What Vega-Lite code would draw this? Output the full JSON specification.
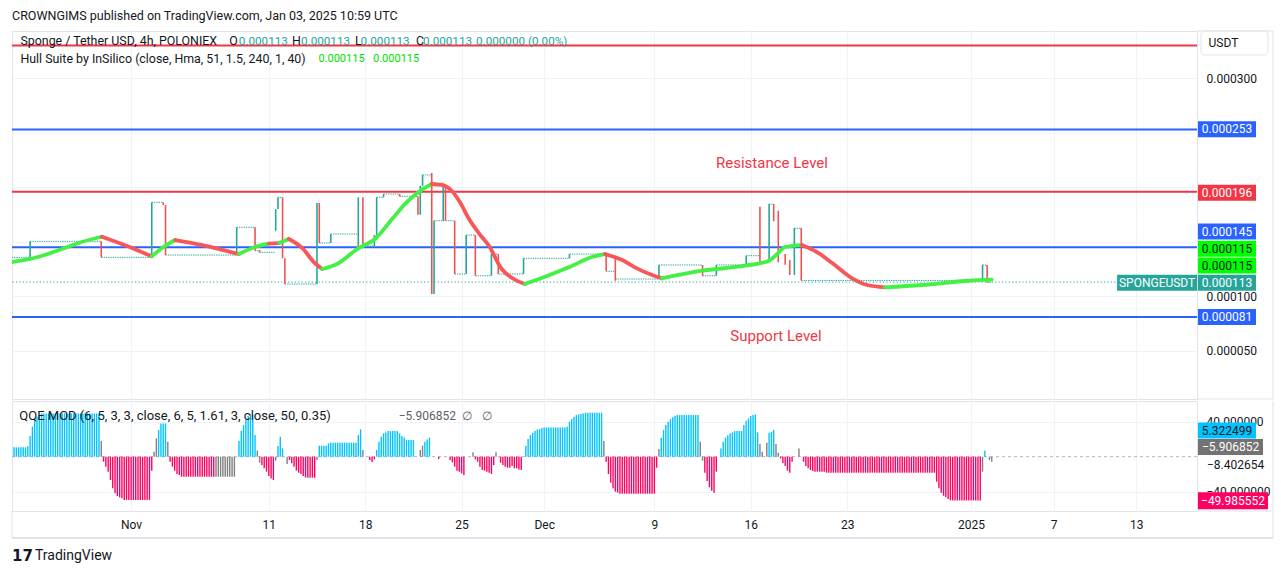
{
"$schema": "https://vega.github.io/schema/vega-lite/v6.json",
"background": "white",
"padding": {"left": 10, "top": 9, "right": 0, "bottom": 0},
"spacing": 0,
"config": {
 "font": "Roboto",
 "view": {"stroke": "#e0e3eb", "strokeWidth": 1},
 "axis": {"labelFont": "Roboto", "labelFontSize": 12, "labelColor": "#131722", "gridColor": "#f0f3fa", "ticks": false, "tickSize": 0, "domain": false},
 "text": {"font": "Roboto"}
},
"datasets": {
 "levels": [
  {"price": 0.00033, "role": "resistance"},
  {"price": 0.000253, "role": "support"},
  {"price": 0.000196, "role": "resistance"},
  {"price": 0.000145, "role": "support"},
  {"price": 0.000081, "role": "support"}
 ],
 "flats": [
  {"from":"2024-10-23T08:00Z","to":"2024-10-24T16:00Z","price":0.0001357},
  {"from":"2024-10-24T16:00Z","to":"2024-10-29T20:00Z","price":0.0001504},
  {"from":"2024-10-29T20:00Z","to":"2024-11-02T12:00Z","price":0.0001357},
  {"from":"2024-11-02T12:00Z","to":"2024-11-03T08:00Z","price":0.0001862},
  {"from":"2024-11-03T12:00Z","to":"2024-11-08T16:00Z","price":0.0001378},
  {"from":"2024-11-08T16:00Z","to":"2024-11-10T00:00Z","price":0.0001633},
  {"from":"2024-11-10T00:00Z","to":"2024-11-10T08:00Z","price":0.0001418},
  {"from":"2024-11-10T08:00Z","to":"2024-11-11T12:00Z","price":0.0001403},
  {"from":"2024-11-11T16:00Z","to":"2024-11-12T00:00Z","price":0.0001908},
  {"from":"2024-11-12T04:00Z","to":"2024-11-14T12:00Z","price":0.0001112},
  {"from":"2024-11-14T16:00Z","to":"2024-11-15T12:00Z","price":0.0001488},
  {"from":"2024-11-15T12:00Z","to":"2024-11-17T12:00Z","price":0.0001571},
  {"from":"2024-11-17T20:00Z","to":"2024-11-18T16:00Z","price":0.0001461},
  {"from":"2024-11-18T20:00Z","to":"2024-11-19T08:00Z","price":0.0001908},
  {"from":"2024-11-19T08:00Z","to":"2024-11-20T12:00Z","price":0.0001938},
  {"from":"2024-11-20T12:00Z","to":"2024-11-21T20:00Z","price":0.0001917},
  {"from":"2024-11-22T04:00Z","to":"2024-11-22T20:00Z","price":0.0002113},
  {"from":"2024-11-23T00:00Z","to":"2024-11-24T12:00Z","price":0.0001693},
  {"from":"2024-11-24T12:00Z","to":"2024-11-25T08:00Z","price":0.0001204},
  {"from":"2024-11-25T08:00Z","to":"2024-11-26T00:00Z","price":0.0001562},
  {"from":"2024-11-26T00:00Z","to":"2024-11-27T04:00Z","price":0.0001188},
  {"from":"2024-11-27T04:00Z","to":"2024-11-27T16:00Z","price":0.0001387},
  {"from":"2024-11-27T16:00Z","to":"2024-11-29T12:00Z","price":0.0001204},
  {"from":"2024-11-29T12:00Z","to":"2024-12-02T20:00Z","price":0.0001348},
  {"from":"2024-12-02T20:00Z","to":"2024-12-05T12:00Z","price":0.0001387},
  {"from":"2024-12-05T12:00Z","to":"2024-12-06T04:00Z","price":0.0001229},
  {"from":"2024-12-06T04:00Z","to":"2024-12-09T08:00Z","price":0.0001158},
  {"from":"2024-12-09T08:00Z","to":"2024-12-12T12:00Z","price":0.0001287},
  {"from":"2024-12-12T12:00Z","to":"2024-12-13T12:00Z","price":0.0001188},
  {"from":"2024-12-13T12:00Z","to":"2024-12-15T16:00Z","price":0.0001287},
  {"from":"2024-12-15T16:00Z","to":"2024-12-16T16:00Z","price":0.0001372},
  {"from":"2024-12-17T08:00Z","to":"2024-12-17T16:00Z","price":0.0001846},
  {"from":"2024-12-19T04:00Z","to":"2024-12-19T16:00Z","price":0.0001623},
  {"from":"2024-12-19T16:00Z","to":"2025-01-01T20:00Z","price":0.0001145},
  {"from":"2025-01-01T20:00Z","to":"2025-01-02T04:00Z","price":0.0001287},
  {"from":"2025-01-02T04:00Z","to":"2025-01-02T12:00Z","price":0.0001128}
 ],
 "candles": [
  {"t":"2024-10-24T16:00Z","open":0.0001357,"high":0.0001504,"low":0.0001357,"close":0.0001504},
  {"t":"2024-10-29T20:00Z","open":0.0001504,"high":0.0001504,"low":0.0001357,"close":0.0001357},
  {"t":"2024-11-02T12:00Z","open":0.0001357,"high":0.0001862,"low":0.0001357,"close":0.0001862},
  {"t":"2024-11-03T08:00Z","open":0.0001862,"high":0.0001862,"low":0.0001837,"close":0.0001837},
  {"t":"2024-11-03T12:00Z","open":0.0001837,"high":0.0001837,"low":0.0001378,"close":0.0001378},
  {"t":"2024-11-08T16:00Z","open":0.0001378,"high":0.0001633,"low":0.0001378,"close":0.0001633},
  {"t":"2024-11-10T00:00Z","open":0.0001633,"high":0.0001633,"low":0.0001418,"close":0.0001418},
  {"t":"2024-11-10T08:00Z","open":0.0001418,"high":0.0001425,"low":0.0001403,"close":0.0001403},
  {"t":"2024-11-11T12:00Z","open":0.0001601,"high":0.00018,"low":0.0001601,"close":0.00018},
  {"t":"2024-11-11T16:00Z","open":0.00018,"high":0.0001908,"low":0.00018,"close":0.0001908},
  {"t":"2024-11-12T00:00Z","open":0.0001908,"high":0.0001908,"low":0.0001348,"close":0.0001348},
  {"t":"2024-11-12T04:00Z","open":0.0001348,"high":0.0001348,"low":0.0001112,"close":0.0001112},
  {"t":"2024-11-14T12:00Z","open":0.0001112,"high":0.0001856,"low":0.0001112,"close":0.0001856},
  {"t":"2024-11-14T16:00Z","open":0.0001856,"high":0.0001856,"low":0.0001488,"close":0.0001488},
  {"t":"2024-11-15T12:00Z","open":0.0001488,"high":0.0001571,"low":0.0001488,"close":0.0001571},
  {"t":"2024-11-17T12:00Z","open":0.0001571,"high":0.0001908,"low":0.0001461,"close":0.0001908},
  {"t":"2024-11-17T20:00Z","open":0.0001908,"high":0.0001908,"low":0.0001461,"close":0.0001461},
  {"t":"2024-11-18T16:00Z","open":0.0001461,"high":0.0001562,"low":0.0001461,"close":0.0001562},
  {"t":"2024-11-18T20:00Z","open":0.0001562,"high":0.0001908,"low":0.0001562,"close":0.0001908},
  {"t":"2024-11-19T08:00Z","open":0.0001908,"high":0.0001938,"low":0.0001908,"close":0.0001938},
  {"t":"2024-11-20T12:00Z","open":0.0001938,"high":0.0001938,"low":0.0001917,"close":0.0001917},
  {"t":"2024-11-21T20:00Z","open":0.0001917,"high":0.0001917,"low":0.0001748,"close":0.0001748},
  {"t":"2024-11-22T00:00Z","open":0.0001748,"high":0.0002014,"low":0.0001748,"close":0.0002014},
  {"t":"2024-11-22T04:00Z","open":0.0002014,"high":0.0002113,"low":0.0002014,"close":0.0002113},
  {"t":"2024-11-22T20:00Z","open":0.0002113,"high":0.0002131,"low":0.000102,"close":0.000102},
  {"t":"2024-11-23T00:00Z","open":0.000102,"high":0.0001693,"low":0.000102,"close":0.0001693},
  {"t":"2024-11-23T16:00Z","open":0.0001693,"high":0.0002002,"low":0.0001693,"close":0.0002002},
  {"t":"2024-11-23T20:00Z","open":0.0002002,"high":0.0002002,"low":0.0001693,"close":0.0001693},
  {"t":"2024-11-24T12:00Z","open":0.0001693,"high":0.0001693,"low":0.0001204,"close":0.0001204},
  {"t":"2024-11-25T08:00Z","open":0.0001204,"high":0.0001562,"low":0.0001204,"close":0.0001562},
  {"t":"2024-11-26T00:00Z","open":0.0001562,"high":0.0001562,"low":0.0001188,"close":0.0001188},
  {"t":"2024-11-27T04:00Z","open":0.0001188,"high":0.0001387,"low":0.0001188,"close":0.0001387},
  {"t":"2024-11-27T16:00Z","open":0.0001387,"high":0.0001387,"low":0.0001204,"close":0.0001204},
  {"t":"2024-11-29T12:00Z","open":0.0001204,"high":0.0001348,"low":0.0001204,"close":0.0001348},
  {"t":"2024-12-02T20:00Z","open":0.0001348,"high":0.0001387,"low":0.0001348,"close":0.0001387},
  {"t":"2024-12-05T12:00Z","open":0.0001387,"high":0.0001387,"low":0.0001229,"close":0.0001229},
  {"t":"2024-12-06T04:00Z","open":0.0001229,"high":0.0001342,"low":0.0001142,"close":0.0001158},
  {"t":"2024-12-09T08:00Z","open":0.0001158,"high":0.0001287,"low":0.0001158,"close":0.0001287},
  {"t":"2024-12-12T12:00Z","open":0.0001287,"high":0.0001287,"low":0.0001188,"close":0.0001188},
  {"t":"2024-12-13T12:00Z","open":0.0001188,"high":0.0001287,"low":0.0001188,"close":0.0001287},
  {"t":"2024-12-15T16:00Z","open":0.0001287,"high":0.0001372,"low":0.0001287,"close":0.0001372},
  {"t":"2024-12-16T16:00Z","open":0.0001372,"high":0.0001822,"low":0.0001311,"close":0.0001311},
  {"t":"2024-12-17T08:00Z","open":0.0001311,"high":0.0001846,"low":0.0001311,"close":0.0001846},
  {"t":"2024-12-17T16:00Z","open":0.0001846,"high":0.0001846,"low":0.0001688,"close":0.0001688},
  {"t":"2024-12-18T00:00Z","open":0.0001785,"high":0.0001785,"low":0.0001311,"close":0.0001311},
  {"t":"2024-12-18T12:00Z","open":0.0001387,"high":0.0001387,"low":0.000129,"close":0.000129},
  {"t":"2024-12-18T20:00Z","open":0.0001332,"high":0.0001332,"low":0.0001195,"close":0.0001195},
  {"t":"2024-12-19T04:00Z","open":0.0001195,"high":0.0001627,"low":0.0001195,"close":0.0001627},
  {"t":"2024-12-19T16:00Z","open":0.0001627,"high":0.0001627,"low":0.0001145,"close":0.0001145},
  {"t":"2025-01-01T20:00Z","open":0.0001145,"high":0.0001287,"low":0.0001145,"close":0.0001287},
  {"t":"2025-01-02T04:00Z","open":0.0001287,"high":0.0001287,"low":0.0001128,"close":0.0001128}
 ],
 "hull": [
  {"t":"2024-10-23T08:00Z","hull":0.0001314,"seg":1,"trend":"up"},
  {"t":"2024-10-24T23:00Z","hull":0.0001351,"seg":1,"trend":"up"},
  {"t":"2024-10-26T23:30Z","hull":0.0001433,"seg":1,"trend":"up"},
  {"t":"2024-10-28T10:00Z","hull":0.0001498,"seg":1,"trend":"up"},
  {"t":"2024-10-29T21:00Z","hull":0.0001546,"seg":1,"trend":"up"},
  {"t":"2024-10-29T21:00Z","hull":0.0001546,"seg":2,"trend":"down"},
  {"t":"2024-10-31T17:00Z","hull":0.0001461,"seg":2,"trend":"down"},
  {"t":"2024-11-02T12:00Z","hull":0.0001366,"seg":2,"trend":"down"},
  {"t":"2024-11-02T12:00Z","hull":0.0001366,"seg":3,"trend":"up"},
  {"t":"2024-11-03T11:00Z","hull":0.0001461,"seg":3,"trend":"up"},
  {"t":"2024-11-04T05:00Z","hull":0.0001516,"seg":3,"trend":"up"},
  {"t":"2024-11-04T05:00Z","hull":0.0001516,"seg":4,"trend":"down"},
  {"t":"2024-11-06T04:00Z","hull":0.000147,"seg":4,"trend":"down"},
  {"t":"2024-11-08T20:00Z","hull":0.0001387,"seg":4,"trend":"down"},
  {"t":"2024-11-08T20:00Z","hull":0.0001387,"seg":5,"trend":"up"},
  {"t":"2024-11-10T00:00Z","hull":0.0001452,"seg":5,"trend":"up"},
  {"t":"2024-11-11T00:00Z","hull":0.0001482,"seg":5,"trend":"up"},
  {"t":"2024-11-11T00:00Z","hull":0.0001482,"seg":6,"trend":"down"},
  {"t":"2024-11-11T18:00Z","hull":0.0001488,"seg":6,"trend":"down"},
  {"t":"2024-11-11T18:00Z","hull":0.0001488,"seg":7,"trend":"up"},
  {"t":"2024-11-12T11:00Z","hull":0.0001525,"seg":7,"trend":"up"},
  {"t":"2024-11-12T11:00Z","hull":0.0001525,"seg":8,"trend":"down"},
  {"t":"2024-11-13T10:00Z","hull":0.0001443,"seg":8,"trend":"down"},
  {"t":"2024-11-14T08:00Z","hull":0.0001305,"seg":8,"trend":"down"},
  {"t":"2024-11-14T21:00Z","hull":0.000125,"seg":8,"trend":"down"},
  {"t":"2024-11-14T21:00Z","hull":0.000125,"seg":9,"trend":"up"},
  {"t":"2024-11-15T23:00Z","hull":0.0001296,"seg":9,"trend":"up"},
  {"t":"2024-11-17T10:00Z","hull":0.0001433,"seg":9,"trend":"up"},
  {"t":"2024-11-18T17:00Z","hull":0.0001525,"seg":9,"trend":"up"},
  {"t":"2024-11-19T23:00Z","hull":0.0001709,"seg":9,"trend":"up"},
  {"t":"2024-11-21T01:00Z","hull":0.0001865,"seg":9,"trend":"up"},
  {"t":"2024-11-22T03:00Z","hull":0.0001978,"seg":9,"trend":"up"},
  {"t":"2024-11-22T20:00Z","hull":0.000203,"seg":9,"trend":"up"},
  {"t":"2024-11-22T20:00Z","hull":0.000203,"seg":10,"trend":"down"},
  {"t":"2024-11-23T14:00Z","hull":0.0002021,"seg":10,"trend":"down"},
  {"t":"2024-11-24T07:00Z","hull":0.0001966,"seg":10,"trend":"down"},
  {"t":"2024-11-24T21:00Z","hull":0.0001865,"seg":10,"trend":"down"},
  {"t":"2024-11-25T13:00Z","hull":0.0001709,"seg":10,"trend":"down"},
  {"t":"2024-11-26T06:00Z","hull":0.000158,"seg":10,"trend":"down"},
  {"t":"2024-11-27T00:00Z","hull":0.0001461,"seg":10,"trend":"down"},
  {"t":"2024-11-27T22:00Z","hull":0.000125,"seg":10,"trend":"down"},
  {"t":"2024-11-28T19:00Z","hull":0.0001158,"seg":10,"trend":"down"},
  {"t":"2024-11-29T14:00Z","hull":0.0001112,"seg":10,"trend":"down"},
  {"t":"2024-11-29T14:00Z","hull":0.0001112,"seg":11,"trend":"up"},
  {"t":"2024-12-01T05:00Z","hull":0.0001186,"seg":11,"trend":"up"},
  {"t":"2024-12-02T19:00Z","hull":0.0001265,"seg":11,"trend":"up"},
  {"t":"2024-12-04T11:00Z","hull":0.000136,"seg":11,"trend":"up"},
  {"t":"2024-12-05T10:00Z","hull":0.0001387,"seg":11,"trend":"up"},
  {"t":"2024-12-05T10:00Z","hull":0.0001387,"seg":12,"trend":"down"},
  {"t":"2024-12-06T16:00Z","hull":0.0001332,"seg":12,"trend":"down"},
  {"t":"2024-12-07T14:00Z","hull":0.0001265,"seg":12,"trend":"down"},
  {"t":"2024-12-08T20:00Z","hull":0.0001195,"seg":12,"trend":"down"},
  {"t":"2024-12-09T13:00Z","hull":0.0001164,"seg":12,"trend":"down"},
  {"t":"2024-12-09T13:00Z","hull":0.0001164,"seg":13,"trend":"up"},
  {"t":"2024-12-12T11:00Z","hull":0.0001234,"seg":13,"trend":"up"},
  {"t":"2024-12-15T14:00Z","hull":0.000128,"seg":13,"trend":"up"},
  {"t":"2024-12-17T08:00Z","hull":0.0001326,"seg":13,"trend":"up"},
  {"t":"2024-12-17T22:00Z","hull":0.0001387,"seg":13,"trend":"up"},
  {"t":"2024-12-18T12:00Z","hull":0.0001452,"seg":13,"trend":"up"},
  {"t":"2024-12-19T17:00Z","hull":0.000147,"seg":13,"trend":"up"},
  {"t":"2024-12-19T17:00Z","hull":0.000147,"seg":14,"trend":"down"},
  {"t":"2024-12-20T19:00Z","hull":0.0001406,"seg":14,"trend":"down"},
  {"t":"2024-12-21T22:00Z","hull":0.0001305,"seg":14,"trend":"down"},
  {"t":"2024-12-23T08:00Z","hull":0.0001167,"seg":14,"trend":"down"},
  {"t":"2024-12-24T11:00Z","hull":0.0001103,"seg":14,"trend":"down"},
  {"t":"2024-12-25T18:00Z","hull":0.0001082,"seg":14,"trend":"down"},
  {"t":"2024-12-25T18:00Z","hull":0.0001082,"seg":15,"trend":"up"},
  {"t":"2024-12-28T10:00Z","hull":0.0001103,"seg":15,"trend":"up"},
  {"t":"2024-12-31T20:00Z","hull":0.0001142,"seg":15,"trend":"up"},
  {"t":"2025-01-02T12:00Z","hull":0.0001152,"seg":15,"trend":"up"}
 ],
 "legend": [
  {"label":"Sponge / Tether USD, 4h, POLONIEX","t":"2024-10-23T23:04Z","p":0.0003338,"part":"name"},
  {"label":"O","t":"2024-11-08T03:09Z","p":0.0003338,"part":"name"},
  {"label":"0.000113","t":"2024-11-08T19:42Z","p":0.0003338,"part":"ohlc"},
  {"label":"H","t":"2024-11-12T16:26Z","p":0.0003338,"part":"name"},
  {"label":"0.000113","t":"2024-11-13T08:07Z","p":0.0003338,"part":"ohlc"},
  {"label":"L","t":"2024-11-17T06:14Z","p":0.0003338,"part":"name"},
  {"label":"0.000113","t":"2024-11-17T16:00Z","p":0.0003338,"part":"ohlc"},
  {"label":"C","t":"2024-11-21T16:34Z","p":0.0003338,"part":"name"},
  {"label":"0.000113","t":"2024-11-22T04:45Z","p":0.0003338,"part":"ohlc"},
  {"label":"0.000000 (0.00%)","t":"2024-11-26T01:08Z","p":0.0003338,"part":"ohlc"},
  {"label":"Hull Suite by InSilico (close, Hma, 51, 1.5, 240, 1, 40)","t":"2024-10-23T23:04Z","p":0.0003177,"part":"name"},
  {"label":"0.000115","t":"2024-11-14T14:27Z","p":0.0003177,"part":"hull"},
  {"label":"0.000115","t":"2024-11-18T13:37Z","p":0.0003177,"part":"hull"}
 ],
 "tags": [
  {"label":"0.000253","at":0.0002532,"kind":"support"},
  {"label":"0.000196","at":0.000195,"kind":"resistance"},
  {"label":"0.000145","at":0.0001594,"kind":"support"},
  {"label":"0.000115","at":0.0001436,"kind":"hull"},
  {"label":"0.000115","at":0.0001282,"kind":"hull"},
  {"label":"0.000113","at":0.0001123,"kind":"last"},
  {"label":"0.000081","at":0.0000809,"kind":"support"}
 ],
 "qqeLegend": [
  {"label":"QQE MOD (6, 5, 3, 3, close, 6, 5, 1.61, 3, close, 50, 0.35)","t":"2024-10-23T21:09Z","v":46.5,"part":"name"},
  {"label":"−5.906852","t":"2024-11-20T10:25Z","v":46.5,"part":"value"},
  {"label":"∅","t":"2024-11-25T00:45Z","v":46.5,"part":"value"},
  {"label":"∅","t":"2024-11-26T11:35Z","v":46.5,"part":"value"}
 ],
 "qqe": [
  {"t":"2024-10-23T12:00Z","v":10.7,"zone":"up"},{"t":"2024-10-23T16:00Z","v":10.7,"zone":"up"},{"t":"2024-10-23T20:00Z","v":10.7,"zone":"up"},
  {"t":"2024-10-24T00:00Z","v":10.7,"zone":"up"},{"t":"2024-10-24T04:00Z","v":10.7,"zone":"up"},{"t":"2024-10-24T08:00Z","v":10.7,"zone":"up"},{"t":"2024-10-24T12:00Z","v":12,"zone":"up"},{"t":"2024-10-24T16:00Z","v":23.6,"zone":"up"},{"t":"2024-10-24T20:00Z","v":34.3,"zone":"up"},
  {"t":"2024-10-25T00:00Z","v":41.1,"zone":"up"},{"t":"2024-10-25T04:00Z","v":45.7,"zone":"up"},{"t":"2024-10-25T08:00Z","v":48,"zone":"up"},{"t":"2024-10-25T12:00Z","v":49.5,"zone":"up"},{"t":"2024-10-25T16:00Z","v":49.5,"zone":"up"},{"t":"2024-10-25T20:00Z","v":49.5,"zone":"up"},
  {"t":"2024-10-26T00:00Z","v":49.5,"zone":"up"},{"t":"2024-10-26T04:00Z","v":49.5,"zone":"up"},{"t":"2024-10-26T08:00Z","v":49.5,"zone":"up"},{"t":"2024-10-26T12:00Z","v":49.5,"zone":"up"},{"t":"2024-10-26T16:00Z","v":49.5,"zone":"up"},{"t":"2024-10-26T20:00Z","v":49.5,"zone":"up"},
  {"t":"2024-10-27T00:00Z","v":49.5,"zone":"up"},{"t":"2024-10-27T04:00Z","v":49.5,"zone":"up"},{"t":"2024-10-27T08:00Z","v":49.5,"zone":"up"},{"t":"2024-10-27T12:00Z","v":49.5,"zone":"up"},{"t":"2024-10-27T16:00Z","v":49.5,"zone":"up"},{"t":"2024-10-27T20:00Z","v":49.5,"zone":"up"},
  {"t":"2024-10-28T00:00Z","v":49.5,"zone":"up"},{"t":"2024-10-28T04:00Z","v":49.5,"zone":"up"},{"t":"2024-10-28T08:00Z","v":49.5,"zone":"up"},{"t":"2024-10-28T12:00Z","v":49.5,"zone":"up"},{"t":"2024-10-28T16:00Z","v":49.5,"zone":"up"},{"t":"2024-10-28T20:00Z","v":49.5,"zone":"up"},
  {"t":"2024-10-29T00:00Z","v":49.5,"zone":"up"},{"t":"2024-10-29T04:00Z","v":49.5,"zone":"up"},{"t":"2024-10-29T08:00Z","v":49.5,"zone":"up"},{"t":"2024-10-29T12:00Z","v":49.5,"zone":"up"},{"t":"2024-10-29T16:00Z","v":49.5,"zone":"up"},{"t":"2024-10-29T20:00Z","v":17.9,"zone":"flat"},
  {"t":"2024-10-30T00:00Z","v":-5.7,"zone":"down"},{"t":"2024-10-30T04:00Z","v":-11.4,"zone":"down"},{"t":"2024-10-30T08:00Z","v":-17.1,"zone":"down"},{"t":"2024-10-30T12:00Z","v":-26.7,"zone":"down"},{"t":"2024-10-30T16:00Z","v":-36.2,"zone":"down"},{"t":"2024-10-30T20:00Z","v":-41.9,"zone":"down"},
  {"t":"2024-10-31T00:00Z","v":-45,"zone":"down"},{"t":"2024-10-31T04:00Z","v":-46.5,"zone":"down"},{"t":"2024-10-31T08:00Z","v":-47.6,"zone":"down"},{"t":"2024-10-31T12:00Z","v":-49.5,"zone":"down"},{"t":"2024-10-31T16:00Z","v":-49.5,"zone":"down"},{"t":"2024-10-31T20:00Z","v":-49.5,"zone":"down"},
  {"t":"2024-11-01T00:00Z","v":-49.5,"zone":"down"},{"t":"2024-11-01T04:00Z","v":-49.5,"zone":"down"},{"t":"2024-11-01T08:00Z","v":-49.5,"zone":"down"},{"t":"2024-11-01T12:00Z","v":-49.5,"zone":"down"},{"t":"2024-11-01T16:00Z","v":-49.5,"zone":"down"},{"t":"2024-11-01T20:00Z","v":-49.5,"zone":"down"},
  {"t":"2024-11-02T00:00Z","v":-49.5,"zone":"down"},{"t":"2024-11-02T04:00Z","v":-49.5,"zone":"down"},{"t":"2024-11-02T08:00Z","v":-49.5,"zone":"down"},{"t":"2024-11-02T12:00Z","v":-16,"zone":"down"},{"t":"2024-11-02T16:00Z","v":5.7,"zone":"flat"},{"t":"2024-11-02T20:00Z","v":21,"zone":"flat"},
  {"t":"2024-11-03T00:00Z","v":30.5,"zone":"up"},{"t":"2024-11-03T04:00Z","v":38,"zone":"up"},{"t":"2024-11-03T08:00Z","v":38,"zone":"up"},{"t":"2024-11-03T12:00Z","v":38,"zone":"up"},{"t":"2024-11-03T16:00Z","v":17,"zone":"flat"},{"t":"2024-11-03T20:00Z","v":-5.7,"zone":"down"},
  {"t":"2024-11-04T00:00Z","v":-11.4,"zone":"down"},{"t":"2024-11-04T04:00Z","v":-16,"zone":"down"},{"t":"2024-11-04T08:00Z","v":-19.8,"zone":"down"},{"t":"2024-11-04T12:00Z","v":-21,"zone":"down"},{"t":"2024-11-04T16:00Z","v":-22.9,"zone":"down"},{"t":"2024-11-04T20:00Z","v":-22.9,"zone":"down"},
  {"t":"2024-11-05T00:00Z","v":-22.9,"zone":"down"},{"t":"2024-11-05T04:00Z","v":-22.9,"zone":"down"},{"t":"2024-11-05T08:00Z","v":-22.9,"zone":"down"},{"t":"2024-11-05T12:00Z","v":-22.9,"zone":"down"},{"t":"2024-11-05T16:00Z","v":-22.9,"zone":"down"},{"t":"2024-11-05T20:00Z","v":-22.9,"zone":"down"},
  {"t":"2024-11-06T00:00Z","v":-22.9,"zone":"down"},{"t":"2024-11-06T04:00Z","v":-22.9,"zone":"down"},{"t":"2024-11-06T08:00Z","v":-22.9,"zone":"down"},{"t":"2024-11-06T12:00Z","v":-22.9,"zone":"down"},{"t":"2024-11-06T16:00Z","v":-22.9,"zone":"down"},{"t":"2024-11-06T20:00Z","v":-22.9,"zone":"down"},
  {"t":"2024-11-07T00:00Z","v":-22.9,"zone":"down"},{"t":"2024-11-07T04:00Z","v":-22.9,"zone":"flat"},{"t":"2024-11-07T08:00Z","v":-22.9,"zone":"flat"},{"t":"2024-11-07T12:00Z","v":-22.9,"zone":"flat"},{"t":"2024-11-07T16:00Z","v":-22.9,"zone":"flat"},{"t":"2024-11-07T20:00Z","v":-22.9,"zone":"flat"},
  {"t":"2024-11-08T00:00Z","v":-22.9,"zone":"flat"},{"t":"2024-11-08T04:00Z","v":-22.9,"zone":"flat"},{"t":"2024-11-08T08:00Z","v":-22.9,"zone":"flat"},{"t":"2024-11-08T12:00Z","v":-22.9,"zone":"flat"},{"t":"2024-11-08T20:00Z","v":17.9,"zone":"up"},
  {"t":"2024-11-09T00:00Z","v":29.7,"zone":"up"},{"t":"2024-11-09T04:00Z","v":36.2,"zone":"up"},{"t":"2024-11-09T08:00Z","v":41.9,"zone":"up"},{"t":"2024-11-09T12:00Z","v":46.5,"zone":"up"},{"t":"2024-11-09T16:00Z","v":48.8,"zone":"up"},{"t":"2024-11-09T20:00Z","v":47.6,"zone":"up"},
  {"t":"2024-11-10T00:00Z","v":24.8,"zone":"up"},{"t":"2024-11-10T04:00Z","v":6.9,"zone":"flat"},{"t":"2024-11-10T08:00Z","v":-6.9,"zone":"flat"},{"t":"2024-11-10T12:00Z","v":-9.5,"zone":"down"},{"t":"2024-11-10T16:00Z","v":-13.3,"zone":"down"},{"t":"2024-11-10T20:00Z","v":-17.1,"zone":"down"},
  {"t":"2024-11-11T00:00Z","v":-22.1,"zone":"down"},{"t":"2024-11-11T04:00Z","v":-24.8,"zone":"down"},{"t":"2024-11-11T08:00Z","v":-26.7,"zone":"down"},{"t":"2024-11-11T12:00Z","v":-4.6,"zone":"flat"},{"t":"2024-11-11T16:00Z","v":12.2,"zone":"up"},{"t":"2024-11-11T20:00Z","v":22.9,"zone":"up"},
  {"t":"2024-11-12T00:00Z","v":9.5,"zone":"up"},{"t":"2024-11-12T08:00Z","v":-8.4,"zone":"flat"},{"t":"2024-11-12T12:00Z","v":-3.8,"zone":"down"},{"t":"2024-11-12T16:00Z","v":-7.6,"zone":"down"},{"t":"2024-11-12T20:00Z","v":-11.4,"zone":"down"},
  {"t":"2024-11-13T00:00Z","v":-16,"zone":"down"},{"t":"2024-11-13T04:00Z","v":-18.3,"zone":"down"},{"t":"2024-11-13T08:00Z","v":-19.8,"zone":"down"},{"t":"2024-11-13T12:00Z","v":-22.1,"zone":"down"},{"t":"2024-11-13T16:00Z","v":-23.6,"zone":"down"},{"t":"2024-11-13T20:00Z","v":-24,"zone":"down"},
  {"t":"2024-11-14T00:00Z","v":-24,"zone":"down"},{"t":"2024-11-14T04:00Z","v":-24,"zone":"down"},{"t":"2024-11-14T08:00Z","v":-24,"zone":"down"},{"t":"2024-11-14T12:00Z","v":-3.8,"zone":"flat"},{"t":"2024-11-14T16:00Z","v":12.6,"zone":"up"},{"t":"2024-11-14T20:00Z","v":12.6,"zone":"up"},
  {"t":"2024-11-15T00:00Z","v":12.6,"zone":"up"},{"t":"2024-11-15T04:00Z","v":12.6,"zone":"up"},{"t":"2024-11-15T08:00Z","v":15.2,"zone":"up"},{"t":"2024-11-15T12:00Z","v":16,"zone":"up"},{"t":"2024-11-15T16:00Z","v":16,"zone":"up"},{"t":"2024-11-15T20:00Z","v":16,"zone":"up"},
  {"t":"2024-11-16T00:00Z","v":16,"zone":"up"},{"t":"2024-11-16T04:00Z","v":16,"zone":"up"},{"t":"2024-11-16T08:00Z","v":16,"zone":"up"},{"t":"2024-11-16T12:00Z","v":16,"zone":"up"},{"t":"2024-11-16T16:00Z","v":16,"zone":"up"},{"t":"2024-11-16T20:00Z","v":16,"zone":"up"},
  {"t":"2024-11-17T00:00Z","v":16,"zone":"up"},{"t":"2024-11-17T04:00Z","v":16,"zone":"up"},{"t":"2024-11-17T08:00Z","v":16,"zone":"up"},{"t":"2024-11-17T12:00Z","v":24.8,"zone":"up"},{"t":"2024-11-17T16:00Z","v":31.2,"zone":"up"},{"t":"2024-11-17T20:00Z","v":7.6,"zone":"flat"},
  {"t":"2024-11-18T08:00Z","v":-3.8,"zone":"down"},{"t":"2024-11-18T12:00Z","v":-6.1,"zone":"down"},{"t":"2024-11-18T16:00Z","v":-3,"zone":"down"},{"t":"2024-11-18T20:00Z","v":7.6,"zone":"up"},
  {"t":"2024-11-19T00:00Z","v":17.1,"zone":"up"},{"t":"2024-11-19T04:00Z","v":22.9,"zone":"up"},{"t":"2024-11-19T08:00Z","v":26.7,"zone":"up"},{"t":"2024-11-19T12:00Z","v":27.8,"zone":"up"},{"t":"2024-11-19T16:00Z","v":29.3,"zone":"up"},{"t":"2024-11-19T20:00Z","v":29.3,"zone":"up"},
  {"t":"2024-11-20T00:00Z","v":29.3,"zone":"up"},{"t":"2024-11-20T04:00Z","v":29.3,"zone":"up"},{"t":"2024-11-20T08:00Z","v":29.3,"zone":"up"},{"t":"2024-11-20T12:00Z","v":26.7,"zone":"up"},{"t":"2024-11-20T16:00Z","v":23.6,"zone":"up"},{"t":"2024-11-20T20:00Z","v":22.1,"zone":"up"},
  {"t":"2024-11-21T00:00Z","v":19,"zone":"up"},{"t":"2024-11-21T04:00Z","v":19,"zone":"up"},{"t":"2024-11-21T08:00Z","v":19,"zone":"up"},{"t":"2024-11-21T12:00Z","v":19,"zone":"up"},
  {"t":"2024-11-22T00:00Z","v":7.6,"zone":"flat"},{"t":"2024-11-22T04:00Z","v":12.6,"zone":"flat"},{"t":"2024-11-22T08:00Z","v":17.1,"zone":"up"},{"t":"2024-11-22T12:00Z","v":19.8,"zone":"up"},{"t":"2024-11-22T16:00Z","v":21.7,"zone":"up"},
  {"t":"2024-11-23T08:00Z","v":-2.7,"zone":"down"},
  {"t":"2024-11-24T04:00Z","v":-3.8,"zone":"down"},{"t":"2024-11-24T08:00Z","v":-6.5,"zone":"down"},{"t":"2024-11-24T12:00Z","v":-11.4,"zone":"down"},{"t":"2024-11-24T16:00Z","v":-16,"zone":"down"},{"t":"2024-11-24T20:00Z","v":-17.1,"zone":"down"},
  {"t":"2024-11-25T00:00Z","v":-19,"zone":"down"},{"t":"2024-11-25T04:00Z","v":-21,"zone":"down"},{"t":"2024-11-25T20:00Z","v":5,"zone":"flat"},
  {"t":"2024-11-26T00:00Z","v":-3,"zone":"down"},{"t":"2024-11-26T04:00Z","v":-5.7,"zone":"down"},{"t":"2024-11-26T08:00Z","v":-11.4,"zone":"down"},{"t":"2024-11-26T12:00Z","v":-15.2,"zone":"down"},{"t":"2024-11-26T16:00Z","v":-16,"zone":"down"},{"t":"2024-11-26T20:00Z","v":-17.1,"zone":"down"},
  {"t":"2024-11-27T00:00Z","v":-18.3,"zone":"down"},{"t":"2024-11-27T04:00Z","v":-19.8,"zone":"down"},{"t":"2024-11-27T08:00Z","v":-9.5,"zone":"down"},{"t":"2024-11-27T12:00Z","v":5,"zone":"flat"},{"t":"2024-11-27T20:00Z","v":-6.9,"zone":"down"},
  {"t":"2024-11-28T00:00Z","v":-9.5,"zone":"down"},{"t":"2024-11-28T04:00Z","v":-11.4,"zone":"down"},{"t":"2024-11-28T08:00Z","v":-12.6,"zone":"down"},{"t":"2024-11-28T12:00Z","v":-12.6,"zone":"down"},{"t":"2024-11-28T16:00Z","v":-10.7,"zone":"down"},{"t":"2024-11-28T20:00Z","v":-13.3,"zone":"down"},
  {"t":"2024-11-29T00:00Z","v":-13.3,"zone":"down"},{"t":"2024-11-29T04:00Z","v":-14.5,"zone":"down"},{"t":"2024-11-29T08:00Z","v":-15.2,"zone":"down"},{"t":"2024-11-29T16:00Z","v":12.2,"zone":"up"},{"t":"2024-11-29T20:00Z","v":20.2,"zone":"up"},
  {"t":"2024-11-30T00:00Z","v":24.8,"zone":"up"},{"t":"2024-11-30T04:00Z","v":27.4,"zone":"up"},{"t":"2024-11-30T08:00Z","v":29.3,"zone":"up"},{"t":"2024-11-30T12:00Z","v":31.2,"zone":"up"},{"t":"2024-11-30T16:00Z","v":31.6,"zone":"up"},{"t":"2024-11-30T20:00Z","v":32.8,"zone":"up"},
  {"t":"2024-12-01T00:00Z","v":33.5,"zone":"up"},{"t":"2024-12-01T04:00Z","v":33.5,"zone":"up"},{"t":"2024-12-01T08:00Z","v":33.5,"zone":"up"},{"t":"2024-12-01T12:00Z","v":33.5,"zone":"up"},{"t":"2024-12-01T16:00Z","v":33.5,"zone":"up"},{"t":"2024-12-01T20:00Z","v":33.5,"zone":"up"},
  {"t":"2024-12-02T00:00Z","v":33.5,"zone":"up"},{"t":"2024-12-02T04:00Z","v":33.5,"zone":"up"},{"t":"2024-12-02T08:00Z","v":33.5,"zone":"up"},{"t":"2024-12-02T12:00Z","v":33.5,"zone":"up"},{"t":"2024-12-02T16:00Z","v":34.3,"zone":"up"},{"t":"2024-12-02T20:00Z","v":40,"zone":"up"},
  {"t":"2024-12-03T00:00Z","v":43,"zone":"up"},{"t":"2024-12-03T04:00Z","v":45.7,"zone":"up"},{"t":"2024-12-03T08:00Z","v":47.6,"zone":"up"},{"t":"2024-12-03T12:00Z","v":48.4,"zone":"up"},{"t":"2024-12-03T16:00Z","v":48.8,"zone":"up"},{"t":"2024-12-03T20:00Z","v":49.5,"zone":"up"},
  {"t":"2024-12-04T00:00Z","v":50.3,"zone":"up"},{"t":"2024-12-04T04:00Z","v":50.3,"zone":"up"},{"t":"2024-12-04T08:00Z","v":50.3,"zone":"up"},{"t":"2024-12-04T12:00Z","v":50.3,"zone":"up"},{"t":"2024-12-04T16:00Z","v":50.3,"zone":"up"},{"t":"2024-12-04T20:00Z","v":50.3,"zone":"up"},
  {"t":"2024-12-05T00:00Z","v":50.3,"zone":"up"},{"t":"2024-12-05T04:00Z","v":50.3,"zone":"up"},{"t":"2024-12-05T08:00Z","v":17.9,"zone":"flat"},{"t":"2024-12-05T12:00Z","v":-5.7,"zone":"down"},{"t":"2024-12-05T16:00Z","v":-19.8,"zone":"down"},{"t":"2024-12-05T20:00Z","v":-29.7,"zone":"down"},
  {"t":"2024-12-06T00:00Z","v":-36.2,"zone":"down"},{"t":"2024-12-06T04:00Z","v":-40,"zone":"down"},{"t":"2024-12-06T08:00Z","v":-41.1,"zone":"down"},{"t":"2024-12-06T12:00Z","v":-42.3,"zone":"down"},{"t":"2024-12-06T16:00Z","v":-42.3,"zone":"down"},{"t":"2024-12-06T20:00Z","v":-42.3,"zone":"down"},
  {"t":"2024-12-07T00:00Z","v":-42.3,"zone":"down"},{"t":"2024-12-07T04:00Z","v":-42.3,"zone":"down"},{"t":"2024-12-07T08:00Z","v":-42.3,"zone":"down"},{"t":"2024-12-07T12:00Z","v":-42.3,"zone":"down"},{"t":"2024-12-07T16:00Z","v":-42.3,"zone":"down"},{"t":"2024-12-07T20:00Z","v":-42.3,"zone":"down"},
  {"t":"2024-12-08T00:00Z","v":-42.3,"zone":"down"},{"t":"2024-12-08T04:00Z","v":-42.3,"zone":"down"},{"t":"2024-12-08T08:00Z","v":-42.3,"zone":"down"},{"t":"2024-12-08T12:00Z","v":-42.3,"zone":"down"},{"t":"2024-12-08T16:00Z","v":-42.3,"zone":"down"},{"t":"2024-12-08T20:00Z","v":-42.3,"zone":"down"},
  {"t":"2024-12-09T00:00Z","v":-42.3,"zone":"down"},{"t":"2024-12-09T04:00Z","v":-12.6,"zone":"down"},{"t":"2024-12-09T08:00Z","v":8.8,"zone":"flat"},{"t":"2024-12-09T12:00Z","v":21.7,"zone":"up"},{"t":"2024-12-09T16:00Z","v":30.5,"zone":"up"},{"t":"2024-12-09T20:00Z","v":36.2,"zone":"up"},
  {"t":"2024-12-10T00:00Z","v":40,"zone":"up"},{"t":"2024-12-10T04:00Z","v":43,"zone":"up"},{"t":"2024-12-10T08:00Z","v":45,"zone":"up"},{"t":"2024-12-10T12:00Z","v":46.5,"zone":"up"},{"t":"2024-12-10T16:00Z","v":47.6,"zone":"up"},{"t":"2024-12-10T20:00Z","v":47.6,"zone":"up"},
  {"t":"2024-12-11T00:00Z","v":47.6,"zone":"up"},{"t":"2024-12-11T04:00Z","v":47.6,"zone":"up"},{"t":"2024-12-11T08:00Z","v":47.6,"zone":"up"},{"t":"2024-12-11T12:00Z","v":47.6,"zone":"up"},{"t":"2024-12-11T16:00Z","v":47.6,"zone":"up"},{"t":"2024-12-11T20:00Z","v":47.6,"zone":"up"},
  {"t":"2024-12-12T00:00Z","v":47.6,"zone":"up"},{"t":"2024-12-12T04:00Z","v":47.6,"zone":"up"},{"t":"2024-12-12T08:00Z","v":17.1,"zone":"flat"},{"t":"2024-12-12T12:00Z","v":-4.6,"zone":"flat"},{"t":"2024-12-12T16:00Z","v":-18.3,"zone":"down"},{"t":"2024-12-12T20:00Z","v":-27.8,"zone":"down"},
  {"t":"2024-12-13T00:00Z","v":-35,"zone":"down"},{"t":"2024-12-13T04:00Z","v":-38.9,"zone":"down"},{"t":"2024-12-13T08:00Z","v":-41.1,"zone":"down"},{"t":"2024-12-13T12:00Z","v":-17.1,"zone":"down"},{"t":"2024-12-13T20:00Z","v":9.5,"zone":"up"},
  {"t":"2024-12-14T00:00Z","v":17.1,"zone":"up"},{"t":"2024-12-14T04:00Z","v":21.7,"zone":"up"},{"t":"2024-12-14T08:00Z","v":24.4,"zone":"up"},{"t":"2024-12-14T12:00Z","v":26.7,"zone":"up"},{"t":"2024-12-14T16:00Z","v":27.8,"zone":"up"},{"t":"2024-12-14T20:00Z","v":29.3,"zone":"up"},
  {"t":"2024-12-15T00:00Z","v":29.3,"zone":"up"},{"t":"2024-12-15T04:00Z","v":29.3,"zone":"up"},{"t":"2024-12-15T08:00Z","v":29.3,"zone":"up"},{"t":"2024-12-15T12:00Z","v":36.2,"zone":"up"},{"t":"2024-12-15T16:00Z","v":41.1,"zone":"up"},{"t":"2024-12-15T20:00Z","v":43.8,"zone":"up"},
  {"t":"2024-12-16T00:00Z","v":46.5,"zone":"up"},{"t":"2024-12-16T04:00Z","v":47.6,"zone":"up"},{"t":"2024-12-16T08:00Z","v":48.4,"zone":"up"},{"t":"2024-12-16T12:00Z","v":27.8,"zone":"up"},{"t":"2024-12-16T16:00Z","v":14.5,"zone":"flat"},{"t":"2024-12-16T20:00Z","v":5.7,"zone":"flat"},
  {"t":"2024-12-17T04:00Z","v":16,"zone":"flat"},{"t":"2024-12-17T08:00Z","v":27.4,"zone":"up"},{"t":"2024-12-17T12:00Z","v":28.6,"zone":"up"},{"t":"2024-12-17T16:00Z","v":30.5,"zone":"up"},{"t":"2024-12-17T20:00Z","v":14.5,"zone":"flat"},
  {"t":"2024-12-18T00:00Z","v":4.6,"zone":"flat"},{"t":"2024-12-18T04:00Z","v":-1.9,"zone":"down"},{"t":"2024-12-18T08:00Z","v":-7.6,"zone":"down"},{"t":"2024-12-18T12:00Z","v":-10.7,"zone":"down"},{"t":"2024-12-18T16:00Z","v":-16,"zone":"down"},{"t":"2024-12-18T20:00Z","v":-18.3,"zone":"down"},
  {"t":"2024-12-19T00:00Z","v":-5.7,"zone":"down"},{"t":"2024-12-19T12:00Z","v":9.5,"zone":"flat"},{"t":"2024-12-19T20:00Z","v":-5.7,"zone":"down"},
  {"t":"2024-12-20T00:00Z","v":-10.7,"zone":"down"},{"t":"2024-12-20T04:00Z","v":-13.3,"zone":"down"},{"t":"2024-12-20T08:00Z","v":-15.2,"zone":"down"},{"t":"2024-12-20T12:00Z","v":-16.4,"zone":"down"},{"t":"2024-12-20T16:00Z","v":-17.1,"zone":"down"},{"t":"2024-12-20T20:00Z","v":-17.1,"zone":"down"},
  {"t":"2024-12-21T00:00Z","v":-17.1,"zone":"down"},{"t":"2024-12-21T04:00Z","v":-17.1,"zone":"down"},{"t":"2024-12-21T08:00Z","v":-17.1,"zone":"down"},{"t":"2024-12-21T12:00Z","v":-18.3,"zone":"down"},{"t":"2024-12-21T16:00Z","v":-18.3,"zone":"down"},{"t":"2024-12-21T20:00Z","v":-18.3,"zone":"down"},
  {"t":"2024-12-22T00:00Z","v":-18.3,"zone":"down"},{"t":"2024-12-22T04:00Z","v":-18.3,"zone":"down"},{"t":"2024-12-22T08:00Z","v":-18.3,"zone":"down"},{"t":"2024-12-22T12:00Z","v":-18.3,"zone":"down"},{"t":"2024-12-22T16:00Z","v":-18.3,"zone":"down"},{"t":"2024-12-22T20:00Z","v":-18.3,"zone":"down"},
  {"t":"2024-12-23T00:00Z","v":-18.3,"zone":"down"},{"t":"2024-12-23T04:00Z","v":-18.3,"zone":"down"},{"t":"2024-12-23T08:00Z","v":-18.3,"zone":"down"},{"t":"2024-12-23T12:00Z","v":-18.3,"zone":"down"},{"t":"2024-12-23T16:00Z","v":-18.3,"zone":"down"},{"t":"2024-12-23T20:00Z","v":-18.3,"zone":"down"},
  {"t":"2024-12-24T00:00Z","v":-18.3,"zone":"down"},{"t":"2024-12-24T04:00Z","v":-18.3,"zone":"down"},{"t":"2024-12-24T08:00Z","v":-18.3,"zone":"down"},{"t":"2024-12-24T12:00Z","v":-18.3,"zone":"down"},{"t":"2024-12-24T16:00Z","v":-18.3,"zone":"down"},{"t":"2024-12-24T20:00Z","v":-18.3,"zone":"down"},
  {"t":"2024-12-25T00:00Z","v":-18.3,"zone":"down"},{"t":"2024-12-25T04:00Z","v":-18.3,"zone":"down"},{"t":"2024-12-25T08:00Z","v":-18.3,"zone":"down"},{"t":"2024-12-25T12:00Z","v":-18.3,"zone":"down"},{"t":"2024-12-25T16:00Z","v":-18.3,"zone":"down"},{"t":"2024-12-25T20:00Z","v":-18.3,"zone":"down"},
  {"t":"2024-12-26T00:00Z","v":-18.3,"zone":"down"},{"t":"2024-12-26T04:00Z","v":-18.3,"zone":"down"},{"t":"2024-12-26T08:00Z","v":-18.3,"zone":"down"},{"t":"2024-12-26T12:00Z","v":-18.3,"zone":"down"},{"t":"2024-12-26T16:00Z","v":-18.3,"zone":"down"},{"t":"2024-12-26T20:00Z","v":-18.3,"zone":"down"},
  {"t":"2024-12-27T00:00Z","v":-18.3,"zone":"down"},{"t":"2024-12-27T04:00Z","v":-18.3,"zone":"down"},{"t":"2024-12-27T08:00Z","v":-18.3,"zone":"down"},{"t":"2024-12-27T12:00Z","v":-18.3,"zone":"down"},{"t":"2024-12-27T16:00Z","v":-18.3,"zone":"down"},{"t":"2024-12-27T20:00Z","v":-18.3,"zone":"down"},
  {"t":"2024-12-28T00:00Z","v":-18.3,"zone":"down"},{"t":"2024-12-28T04:00Z","v":-18.3,"zone":"down"},{"t":"2024-12-28T08:00Z","v":-18.3,"zone":"down"},{"t":"2024-12-28T12:00Z","v":-18.3,"zone":"down"},{"t":"2024-12-28T16:00Z","v":-18.3,"zone":"down"},{"t":"2024-12-28T20:00Z","v":-18.3,"zone":"down"},
  {"t":"2024-12-29T00:00Z","v":-18.3,"zone":"down"},{"t":"2024-12-29T04:00Z","v":-18.3,"zone":"down"},{"t":"2024-12-29T08:00Z","v":-18.3,"zone":"down"},{"t":"2024-12-29T12:00Z","v":-28.6,"zone":"down"},{"t":"2024-12-29T16:00Z","v":-36.2,"zone":"down"},{"t":"2024-12-29T20:00Z","v":-41.1,"zone":"down"},
  {"t":"2024-12-30T00:00Z","v":-44.6,"zone":"down"},{"t":"2024-12-30T04:00Z","v":-46.5,"zone":"down"},{"t":"2024-12-30T08:00Z","v":-48.4,"zone":"down"},{"t":"2024-12-30T12:00Z","v":-50,"zone":"down"},{"t":"2024-12-30T16:00Z","v":-50,"zone":"down"},{"t":"2024-12-30T20:00Z","v":-50,"zone":"down"},
  {"t":"2024-12-31T00:00Z","v":-50,"zone":"down"},{"t":"2024-12-31T04:00Z","v":-50,"zone":"down"},{"t":"2024-12-31T08:00Z","v":-50,"zone":"down"},{"t":"2024-12-31T12:00Z","v":-50,"zone":"down"},{"t":"2024-12-31T16:00Z","v":-50,"zone":"down"},{"t":"2024-12-31T20:00Z","v":-50,"zone":"down"},
  {"t":"2025-01-01T00:00Z","v":-50,"zone":"down"},{"t":"2025-01-01T04:00Z","v":-50,"zone":"down"},{"t":"2025-01-01T08:00Z","v":-50,"zone":"down"},{"t":"2025-01-01T12:00Z","v":-50,"zone":"down"},{"t":"2025-01-01T16:00Z","v":-50,"zone":"down"},{"t":"2025-01-01T20:00Z","v":-17.1,"zone":"flat"},
  {"t":"2025-01-02T00:00Z","v":6.9,"zone":"up"},{"t":"2025-01-02T08:00Z","v":-3.8,"zone":"flat"},{"t":"2025-01-02T12:00Z","v":-5.9,"zone":"flat"}
 ]
},
"vconcat": [
 {
  "width": 1185,
  "height": 368,
  "resolve": {"scale": {"color": "independent", "size": "independent"}},
  "layer": [
   {"data": {"name": "levels"},
    "mark": {"type": "rule", "strokeWidth": 2},
    "encoding": {
     "y": {"field": "price", "type": "quantitative", "scale": {"domain": [0.0000057, 0.0003434], "nice": false, "zero": false},
           "axis": {"orient": "right", "values": [0.00005, 0.0001, 0.00015, 0.0002, 0.00025, 0.0003], "labelExpr": "datum.value > 0.00029 || datum.value < 0.00011 ? format(datum.value, '.6f') : ''", "grid": true, "labelPadding": 9, "title": null}},
     "color": {"field": "role", "type": "nominal", "scale": {"domain": ["resistance", "support"], "range": ["#f23645", "#2962ff"]}, "legend": null}
    }},
   {"data": {"values": [{"last": 0.000113}]},
    "mark": {"type": "rule", "strokeWidth": 1, "strokeDash": [1.2, 2.2], "color": "#26a69a"},
    "encoding": {"y": {"field": "last", "type": "quantitative", "title": null}}},
   {"data": {"name": "flats"},
    "mark": {"type": "rule", "strokeWidth": 1, "strokeDash": [1.3, 1], "color": "#26a69a", "clip": true},
    "encoding": {
     "x": {"field": "from", "type": "temporal", "scale": {"type": "utc", "domain": [1729671909120, 1737107200000], "nice": false},
           "axis": {"values": [1730419200000, 1731283200000, 1731888000000, 1732492800000, 1733011200000, 1733702400000, 1734307200000, 1734912000000, 1735689600000, 1736208000000, 1736726400000], "labels": false, "labelPadding": 0, "minExtent": 0, "maxExtent": 0, "grid": true, "title": null}},
     "x2": {"field": "to"},
     "y": {"field": "price", "type": "quantitative", "title": null}
    }},
   {"data": {"name": "candles"},
    "mark": {"type": "rule", "strokeWidth": 1.6},
    "encoding": {
     "x": {"field": "t", "type": "temporal", "title": null},
     "y": {"field": "low", "type": "quantitative", "title": null},
     "y2": {"field": "high"},
     "color": {"condition": {"test": "datum.close >= datum.open", "value": "#26a69a"}, "value": "#ef5350"}
    }},
   {"data": {"name": "hull"},
    "mark": {"type": "line", "strokeWidth": 3.8, "interpolate": "monotone", "clip": true, "strokeCap": "round", "strokeJoin": "round"},
    "encoding": {
     "x": {"field": "t", "type": "temporal", "title": null},
     "y": {"field": "hull", "type": "quantitative", "title": null},
     "detail": {"field": "seg", "type": "nominal"},
     "color": {"field": "trend", "type": "nominal", "scale": {"domain": ["up", "down"], "range": ["#45f045", "#f95757"]}, "legend": null}
    }},
   {"data": {"values": [{"label": "Resistance Level", "t": "2024-12-17T13:00Z", "p": 0.0002223}, {"label": "Support Level", "t": "2024-12-17T20:00Z", "p": 0.0000635}]},
    "mark": {"type": "text", "fontSize": 15, "color": "#f23645", "align": "center", "baseline": "middle"},
    "encoding": {"x": {"field": "t", "type": "temporal", "title": null}, "y": {"field": "p", "type": "quantitative", "title": null}, "text": {"field": "label"}}},
   {"data": {"name": "legend"},
    "mark": {"type": "text", "align": "left", "baseline": "middle"},
    "encoding": {
     "x": {"field": "t", "type": "temporal", "title": null},
     "y": {"field": "p", "type": "quantitative", "title": null},
     "text": {"field": "label"},
     "size": {"field": "part", "type": "ordinal", "scale": {"domain": ["name", "ohlc", "hull"], "range": [12.4, 11, 11]}, "legend": null},
     "color": {"field": "part", "type": "nominal", "scale": {"domain": ["name", "ohlc", "hull"], "range": ["#131722", "#26a69a", "#00e000"]}, "legend": null}
    }},
   {"data": {"values": [{"note": "CROWNGIMS published on TradingView.com, Jan 03, 2025 10:59 UTC"}]},
    "mark": {"type": "text", "fontSize": 12.5, "align": "left", "baseline": "top", "color": "#131722"},
    "encoding": {"x": {"datum": 1729671909120, "type": "temporal"}, "y": {"datum": 0.0003631}, "text": {"field": "note"}}},
   {"data": {"name": "tags"},
    "mark": {"type": "tick", "orient": "horizontal", "size": 58, "thickness": 16, "opacity": 1},
    "encoding": {
     "x": {"datum": 1737295430000, "type": "temporal"},
     "y": {"field": "at", "type": "quantitative", "title": null},
     "color": {"field": "kind", "type": "nominal", "scale": {"domain": ["resistance", "support", "hull", "last"], "range": ["#f23645", "#2962ff", "#00ff00", "#26a69a"]}, "legend": null}
    }},
   {"data": {"name": "tags"},
    "mark": {"type": "text", "fontSize": 12, "align": "center", "baseline": "middle"},
    "encoding": {
     "x": {"datum": 1737295430000, "type": "temporal"},
     "y": {"field": "at", "type": "quantitative", "title": null},
     "text": {"field": "label"},
     "color": {"condition": {"test": "datum.kind === 'hull'", "value": "#131722"}, "value": "#ffffff"}
    }},
   {"data": {"values": [{"symbol": "SPONGEUSDT", "last": 0.0001123}]},
    "layer": [
     {"mark": {"type": "tick", "orient": "horizontal", "size": 80, "thickness": 16, "opacity": 1, "color": "#26a69a"},
      "encoding": {"x": {"datum": 1736856864000, "type": "temporal"}, "y": {"field": "last", "type": "quantitative", "title": null}}},
     {"mark": {"type": "text", "fontSize": 12, "align": "center", "baseline": "middle", "color": "#ffffff"},
      "encoding": {"x": {"datum": 1736856864000, "type": "temporal"}, "y": {"field": "last", "type": "quantitative", "title": null}, "text": {"field": "symbol"}}}
    ]},
   {"data": {"values": [{"unit": "USDT"}]},
    "layer": [
     {"mark": {"type": "tick", "orient": "horizontal", "size": 67, "thickness": 24, "opacity": 1, "color": "#ffffff", "stroke": "#e0e3eb", "strokeWidth": 1, "cornerRadius": 4},
      "encoding": {"x": {"datum": 1737342518400, "type": "temporal"}, "y": {"datum": 0.0003324}}},
     {"mark": {"type": "text", "fontSize": 12, "align": "center", "baseline": "middle", "color": "#131722"},
      "encoding": {"x": {"datum": 1737273312000, "type": "temporal"}, "y": {"datum": 0.0003324}, "text": {"field": "unit"}}}
    ]},
   {"data": {"values": [{}]},
    "layer": [
     {"mark": {"type": "rule", "color": "#e0e3eb", "strokeWidth": 1},
      "encoding": {"x": {"datum": 1737584092800, "type": "temporal"}, "y": {"datum": 0.0003434}, "y2": {"datum": 0.0000057}}},
     {"mark": {"type": "rule", "color": "#e0e3eb", "strokeWidth": 1},
      "encoding": {"x": {"datum": 1737107200000, "type": "temporal"}, "x2": {"datum": 1737584092800}, "y": {"datum": 0.0003434}}},
     {"mark": {"type": "rule", "color": "#e0e3eb", "strokeWidth": 1},
      "encoding": {"x": {"datum": 1737107200000, "type": "temporal"}, "x2": {"datum": 1737584092800}, "y": {"datum": 0.0000057}}}
    ]}
  ]
 },
 {
  "width": 1185,
  "height": 110,
  "resolve": {"scale": {"color": "independent", "size": "independent"}},
  "layer": [
   {"data": {"values": [{}]},
    "mark": {"type": "rule", "strokeDash": [3, 3], "color": "#b2b5be", "strokeWidth": 1},
    "encoding": {"y": {"datum": 0, "type": "quantitative"}}},
   {"data": {"name": "qqe"},
    "mark": {"type": "rule", "strokeWidth": 1.4},
    "encoding": {
     "x": {"field": "t", "type": "temporal", "scale": {"type": "utc", "domain": [1729671909120, 1737107200000], "nice": false},
           "axis": {"values": [1730419200000, 1731283200000, 1731888000000, 1732492800000, 1733011200000, 1733702400000, 1734307200000, 1734912000000, 1735689600000, 1736208000000, 1736726400000],
                    "labelExpr": "utcdate(datum.value) == 1 ? (utcmonth(datum.value) == 0 ? utcFormat(datum.value, '%Y') : utcFormat(datum.value, '%b')) : utcFormat(datum.value, '%-d')",
                    "grid": true, "labelPadding": 8, "labelOverlap": false, "labelFlush": false, "labelAngle": 0, "title": null}},
     "y": {"field": "v", "type": "quantitative", "scale": {"domain": [-62.1, 63.7], "nice": false, "zero": false},
           "axis": {"orient": "right", "values": [40, -40], "labelExpr": "format(datum.value, '.6f')", "grid": true, "labelPadding": 9, "title": null}},
     "y2": {"datum": 0},
     "color": {"field": "zone", "type": "nominal", "scale": {"domain": ["up", "down", "flat"], "range": ["#00c3ff", "#ff0062", "#808080"]}, "legend": null}
    }},
   {"data": {"name": "qqeLegend"},
    "mark": {"type": "text", "align": "left", "baseline": "middle"},
    "encoding": {
     "x": {"field": "t", "type": "temporal", "title": null},
     "y": {"field": "v", "type": "quantitative", "title": null},
     "text": {"field": "label"},
     "size": {"field": "part", "type": "ordinal", "scale": {"domain": ["name", "value"], "range": [13, 12]}, "legend": null},
     "color": {"field": "part", "type": "nominal", "scale": {"domain": ["name", "value"], "range": ["#131722", "#5d606b"]}, "legend": null}
    }},
   {"data": {"values": [{"label": "5.322499", "at": 29.9}]},
    "layer": [
     {"mark": {"type": "tick", "orient": "horizontal", "size": 58, "thickness": 16, "opacity": 1, "color": "#00c3ff"},
      "encoding": {"x": {"datum": 1737295430000, "type": "temporal"}, "y": {"field": "at", "type": "quantitative", "title": null}}},
     {"mark": {"type": "text", "fontSize": 12, "align": "center", "baseline": "middle", "color": "#131722"},
      "encoding": {"x": {"datum": 1737295430000, "type": "temporal"}, "y": {"field": "at", "type": "quantitative", "title": null}, "text": {"field": "label"}}}
    ]},
   {"data": {"values": [{"label": "−5.906852", "at": 11.1}]},
    "layer": [
     {"mark": {"type": "tick", "orient": "horizontal", "size": 65, "thickness": 16, "opacity": 1, "color": "#737373"},
      "encoding": {"x": {"datum": 1737317376000, "type": "temporal"}, "y": {"field": "at", "type": "quantitative", "title": null}}},
     {"mark": {"type": "text", "fontSize": 12, "align": "center", "baseline": "middle", "color": "#ffffff"},
      "encoding": {"x": {"datum": 1737317376000, "type": "temporal"}, "y": {"field": "at", "type": "quantitative", "title": null}, "text": {"field": "label"}}}
    ]},
   {"data": {"values": [{"label": "−49.985552", "at": -50.3}]},
    "layer": [
     {"mark": {"type": "tick", "orient": "horizontal", "size": 70, "thickness": 17, "opacity": 1, "color": "#ff0062"},
      "encoding": {"x": {"datum": 1737333100800, "type": "temporal"}, "y": {"field": "at", "type": "quantitative", "title": null}}},
     {"mark": {"type": "text", "fontSize": 12, "align": "center", "baseline": "middle", "color": "#ffffff"},
      "encoding": {"x": {"datum": 1737333100800, "type": "temporal"}, "y": {"field": "at", "type": "quantitative", "title": null}, "text": {"field": "label"}}}
    ]},
   {"data": {"values": [{"label": "−8.402654", "at": -9.5}]},
    "mark": {"type": "text", "fontSize": 12, "align": "left", "baseline": "middle", "color": "#131722"},
    "encoding": {"x": {"datum": 1737169977600, "type": "temporal"}, "y": {"field": "at", "type": "quantitative", "title": null}, "text": {"field": "label"}}},
   {"data": {"values": [{}]},
    "layer": [
     {"mark": {"type": "rule", "color": "#e0e3eb", "strokeWidth": 1},
      "encoding": {"x": {"datum": 1737584092800, "type": "temporal"}, "y": {"datum": 63.7}, "y2": {"datum": -92.9}}},
     {"mark": {"type": "rule", "color": "#e0e3eb", "strokeWidth": 1},
      "encoding": {"x": {"datum": 1737107200000, "type": "temporal"}, "x2": {"datum": 1737584092800}, "y": {"datum": -62.1}}},
     {"mark": {"type": "rule", "color": "#e0e3eb", "strokeWidth": 1},
      "encoding": {"x": {"datum": 1729671909120, "type": "temporal"}, "y": {"datum": -62.1}, "y2": {"datum": -92.9}}},
     {"mark": {"type": "rule", "color": "#e0e3eb", "strokeWidth": 2},
      "encoding": {"x": {"datum": 1729671909120, "type": "temporal"}, "x2": {"datum": 1737584092800}, "y": {"datum": -92.9}}}
    ]},
   {"data": {"values": [{"brand": "TradingView", "mark": "17"}]},
    "layer": [
     {"mark": {"type": "text", "fontSize": 15, "fontWeight": 900, "align": "left", "baseline": "middle", "color": "#131722", "font": "DejaVu Sans"},
      "encoding": {"x": {"datum": 1729671909120, "type": "temporal"}, "y": {"datum": -113.5}, "text": {"field": "mark"}}},
     {"mark": {"type": "text", "fontSize": 14, "align": "left", "baseline": "middle", "color": "#131722"},
      "encoding": {"x": {"datum": 1729816214400, "type": "temporal"}, "y": {"datum": -113.5}, "text": {"field": "brand"}}}
    ]}
  ]
 }
]
}
